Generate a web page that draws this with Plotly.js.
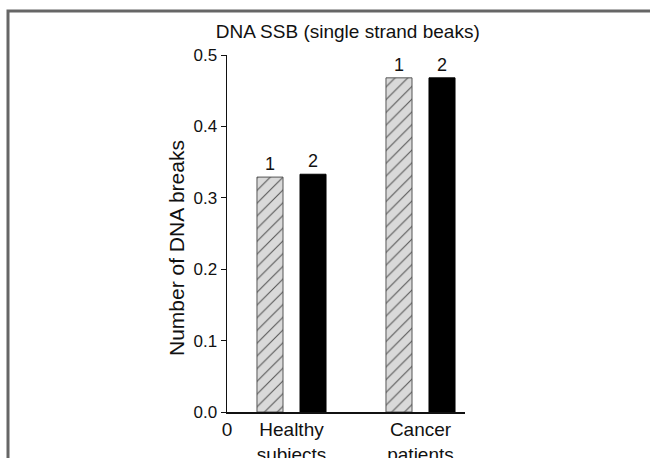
<!DOCTYPE html>
<html>
<head>
<meta charset="utf-8">
<script src="https://cdn.plot.ly/plotly-3.0.1.min.js"></script>
<style>html,body{margin:0;padding:0;background:#fff;}#chart{width:650px;height:458px;}</style>
</head>
<body>
<div id="chart"></div>
<script>
// Data
const groups = [1, 2];                       // positions of the two groups
const groupLabels = ["Healthy<br>subjects", "Cancer<br>patients"];
const series1 = [0.329, 0.468];              // bar "1"
const series2 = [0.333, 0.468];              // bar "2"
const series1Label = "1";
const series2Label = "2";
const yTicks = [0, 0.1, 0.2, 0.3, 0.4, 0.5];
const yTickText = ["0.0", "0.1", "0.2", "0.3", "0.4", "0.5"];

const font = "Liberation Sans, Arial, sans-serif";

const trace1 = {
  type: "bar",
  x: groups,
  y: series1,
  name: series1Label,
  text: groups.map(() => series1Label),
  textposition: "outside",
  cliponaxis: false,
  textfont: {family: font, size: 18, color: "#111"},
  marker: {
    color: "#d9d9d9",
    line: {color: "#555", width: 1},
    pattern: {shape: "/", bgcolor: "#d9d9d9", fgcolor: "#555", size: 9, solidity: 0.12}
  },
  hoverinfo: "none"
};
const trace2 = {
  type: "bar",
  x: groups,
  y: series2,
  name: series2Label,
  text: groups.map(() => series2Label),
  textposition: "outside",
  cliponaxis: false,
  textfont: {family: font, size: 18, color: "#111"},
  marker: {color: "#000", line: {color: "#000", width: 1}},
  hoverinfo: "none"
};

const layout = {
  width: 650, height: 458,
  margin: {l: 227, r: 185, t: 55, b: 46},
  paper_bgcolor: "#fff", plot_bgcolor: "#fff",
  showlegend: false,
  barmode: "group",
  bargap: 0.333,
  bargroupgap: 0.395,
  font: {family: font, size: 17, color: "#111"},
  title: {text: "DNA SSB (single strand beaks)", font: {family: font, size: 19, color: "#111"},
          x: 0.535, xref: "container", xanchor: "center", y: 1 - 31/458, yref: "container", yanchor: "middle"},
  xaxis: {
    range: [0.5, 2.345],
    tickvals: [0.5].concat(groups),
    ticktext: ["0"].concat(groupLabels),
    ticks: "", showgrid: false, zeroline: false,
    showline: true, linecolor: "#111", linewidth: 1.5,
    tickfont: {family: font, size: 19, color: "#111"},
    fixedrange: true
  },
  yaxis: {
    range: [0, 0.5],
    tickvals: yTicks, ticktext: yTickText,
    ticks: "outside", ticklen: 5, tickwidth: 1, tickcolor: "#111",
    showgrid: false, zeroline: false,
    showline: true, linecolor: "#111", linewidth: 1.5,
    tickfont: {family: font, size: 17, color: "#111"},
    fixedrange: true
  },
  annotations: [{
    text: "Number of DNA breaks", textangle: -90,
    xref: "paper", yref: "paper", x: (176 - 227) / 238, y: (412 - 248) / 357,
    xanchor: "center", yanchor: "middle", showarrow: false,
    font: {family: font, size: 21, color: "#111"}
  }],
  shapes: [{
    type: "path", xref: "paper", yref: "paper",
    path: "M " + ((8 - 227) / 238) + "," + ((412 - 470) / 357) +
          " L " + ((8 - 227) / 238) + "," + ((412 - 11) / 357) +
          " L " + ((660 - 227) / 238) + "," + ((412 - 11) / 357),
    line: {color: "#666", width: 3}
  }]
};

Plotly.newPlot("chart", [trace1, trace2], layout, {staticPlot: true, displayModeBar: false});
</script>
</body>
</html>
